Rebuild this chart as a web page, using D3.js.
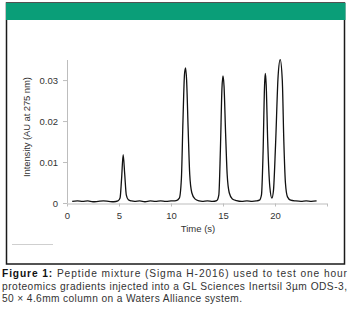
<!DOCTYPE html>
<html><head><meta charset="utf-8">
<script src="https://cdn.jsdelivr.net/npm/d3@7"></script>
<style>html,body{margin:0;padding:0;background:#fff;}svg{display:block;}</style>
</head><body>
<svg id="c" width="350" height="323"></svg>
<script>
// Data: time (s) and intensity (AU at 275 nm)
const times = [0.5,1.0,1.5,2.0,2.5,3.0,3.5,4.0,4.5,4.9,5.1,5.25,5.4,5.55,5.7,5.9,6.2,6.5,7.0,7.5,8.0,8.5,9.0,9.5,10.0,10.5,10.8,11.0,11.15,11.3,11.4,11.5,11.65,11.8,12.0,12.3,12.7,13.0,13.5,14.0,14.4,14.6,14.75,14.9,15.0,15.1,15.25,15.4,15.6,15.9,16.3,16.8,17.3,17.8,18.2,18.5,18.7,18.85,19.0,19.07,19.15,19.3,19.5,19.7,19.85,20.05,20.3,20.5,20.7,20.85,21.0,21.2,21.5,22.0,22.5,23.0,23.5,24.0];
const intensity = [0.0004,0.0005,0.0004,0.0005,0.0003,0.0004,0.0005,0.0004,0.0003,0.0005,0.0012,0.0060,0.0118,0.0070,0.0020,0.0008,0.0005,0.0004,0.0005,0.0003,0.0005,0.0004,0.0005,0.0004,0.0005,0.0006,0.0012,0.0060,0.0200,0.0315,0.0330,0.0300,0.0180,0.0070,0.0025,0.0010,0.0005,0.0004,0.0005,0.0004,0.0006,0.0020,0.0130,0.0280,0.0310,0.0285,0.0170,0.0070,0.0025,0.0010,0.0006,0.0004,0.0005,0.0004,0.0005,0.0007,0.0020,0.0120,0.0290,0.0316,0.0290,0.0150,0.0040,0.0012,0.0030,0.0140,0.0310,0.0350,0.0300,0.0150,0.0050,0.0015,0.0007,0.0005,0.0004,0.0005,0.0004,0.0005];
const xTicks = [0,5,10,15,20];
const yTicks = [0,0.01,0.02,0.03];
const yTickLabels = ["0","0.01","0.02","0.03"];
const xTitle = "Time (s)";
const yTitle = "Intensity (AU at 275 nm)";
const captionLines = [
  [{t:"Figure 1:",b:true},{t:" Peptide mixture (Sigma H-2016) used to test one hour",b:false}],
  [{t:"proteomics gradients injected into a GL Sciences Inertsil 3\u00b5m ODS-3,",b:false}],
  [{t:"50 \u00d7 4.6mm column on a Waters Alliance system.",b:false}]
];

const svg = d3.select("#c");
const font = "'Liberation Sans', Arial, sans-serif";

// frame and header band
svg.append("rect").attr("x",6.5).attr("y",3).attr("width",338).attr("height",261)
  .attr("fill","none").attr("stroke","#1a1a1a").attr("stroke-width",1.5);
svg.append("rect").attr("x",6).attr("y",3).attr("width",339.5).attr("height",17).attr("fill","#0a9e78");
svg.append("line").attr("x1",12).attr("x2",53).attr("y1",244.5).attr("y2",244.5).attr("stroke","#cfcfcf").attr("stroke-width",1);

const x = d3.scaleLinear().domain([0,25]).range([67,327]);
const y = d3.scaleLinear().domain([0,0.0349]).range([203,60]);

// y axis
const ya = svg.append("g").attr("transform","translate(67,0)")
  .call(d3.axisLeft(y).tickValues(yTicks).tickFormat((d,i)=>yTickLabels[i]).tickSize(4).tickPadding(5));
ya.select(".domain").attr("stroke","#bdbdbd").attr("d","M0.5,"+y(0)+"V"+y.range()[1]);
ya.selectAll(".tick line").attr("stroke","#bdbdbd");
ya.selectAll("text").attr("font-family",font).attr("font-size",9.5).attr("fill","#333");

// x axis
const xa = svg.append("g").attr("transform","translate(0,203.5)")
  .call(d3.axisBottom(x).tickValues(xTicks.concat([25])).tickFormat(d=>xTicks.includes(d)?d:"").tickSize(3).tickPadding(6));
xa.select(".domain").attr("stroke","#bdbdbd").attr("d","M"+x(0)+",0.5H"+x(25));
xa.selectAll(".tick line").attr("stroke","#bdbdbd");
xa.selectAll("text").attr("font-family",font).attr("font-size",9.5).attr("fill","#333");

// titles
svg.append("text").attr("x",198).attr("y",231.5).attr("text-anchor","middle")
  .attr("font-family",font).attr("font-size",9.5).attr("fill","#333").text(xTitle);
svg.append("text").attr("transform","translate(30,127) rotate(-90)").attr("text-anchor","middle")
  .attr("font-family",font).attr("font-size",9.5).attr("fill","#333")
  .attr("textLength",100).attr("lengthAdjust","spacing").text(yTitle);

// trace
const pts = times.map((t,i)=>[t,intensity[i]]);
svg.append("path").datum(pts)
  .attr("fill","none").attr("stroke","#111").attr("stroke-width",1.3)
  .attr("d", d3.line().x(d=>x(d[0])).y(d=>y(d[1])).curve(d3.curveMonotoneX));

// caption
const lineY = [277,289.5,301.5];
const lineW = [345,345,240];
captionLines.forEach((parts,i)=>{
  const t = svg.append("text").attr("x",2).attr("y",lineY[i])
    .attr("font-family",font).attr("font-size",10.2).attr("fill","#333")
    .attr("textLength",lineW[i]).attr("lengthAdjust","spacing");
  parts.forEach(p=>{
    t.append("tspan").attr("font-weight",p.b?"bold":"normal").attr("fill",p.b?"#111":"#333").text(p.t);
  });
});
</script>
</body></html>
